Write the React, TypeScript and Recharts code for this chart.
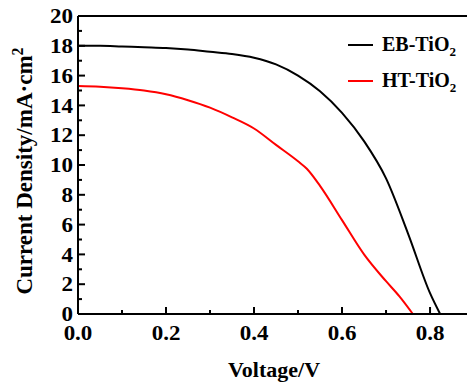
import React from 'react';
import { LineChart, Line, XAxis, YAxis, ReferenceLine, Label } from 'recharts';

const ebVoltage = [0, 0.05, 0.1, 0.15, 0.2, 0.25, 0.3, 0.35, 0.4, 0.45, 0.5, 0.55, 0.6, 0.65, 0.7, 0.75, 0.8, 0.823];
const ebCurrent = [18.0, 18.0, 17.95, 17.9, 17.85, 17.75, 17.6, 17.45, 17.2, 16.75, 16.0, 14.95, 13.5, 11.6, 9.1, 5.4, 1.4, 0];
const htVoltage = [0, 0.05, 0.1, 0.15, 0.2, 0.25, 0.3, 0.35, 0.4, 0.45, 0.5, 0.52, 0.55, 0.6, 0.65, 0.7, 0.73, 0.761];
const htCurrent = [15.3, 15.25, 15.15, 15.0, 14.75, 14.35, 13.85, 13.2, 12.45, 11.35, 10.25, 9.75, 8.6, 6.3, 4.0, 2.2, 1.2, 0];

const xTicks = [0, 0.1, 0.2, 0.3, 0.4, 0.5, 0.6, 0.7, 0.8];
const yTicks = [0, 1, 2, 3, 4, 5, 6, 7, 8, 9, 10, 11, 12, 13, 14, 15, 16, 17, 18, 19, 20];

const seriesNames = ['EB-TiO', 'HT-TiO'];
const seriesColors = ['#000000', '#ff0000'];

const ebData = ebVoltage.map((v, i) => ({ v, j: ebCurrent[i] }));
const htData = htVoltage.map((v, i) => ({ v, j: htCurrent[i] }));

const FONT = '"Liberation Serif", "Times New Roman", serif';
const X_MARGIN = 12;
const Y_MARGIN = 5;
const STRETCH = 1.15;

const XTick = (props: any) => {
  const { x, y, payload } = props;
  const v = payload.value as number;
  const major = Math.round(v * 10) % 2 === 0;
  const axisY = y - X_MARGIN;
  return (
    <g>
      <line x1={x} x2={x} y1={axisY} y2={axisY - (major ? 7 : 4)} stroke="#000" strokeWidth={2} />
      {major && (
        <g transform={`translate(${x} ${y}) scale(${STRETCH} 1)`}>
          <text x={0} y={0} dy="0.71em" textAnchor="middle" fontFamily={FONT} fontWeight="bold" fontSize={20} fill="#000">
            {v.toFixed(1)}
          </text>
        </g>
      )}
    </g>
  );
};

const YTick = (props: any) => {
  const { x, y, payload } = props;
  const v = payload.value as number;
  const major = v % 2 === 0;
  const axisX = x + Y_MARGIN;
  return (
    <g>
      <line x1={axisX} x2={axisX + (major ? 7 : 4)} y1={y} y2={y} stroke="#000" strokeWidth={2} />
      {major && (
        <g transform={`translate(${x} ${y}) scale(${STRETCH} 1)`}>
          <text x={0} y={0} dy="0.355em" textAnchor="end" fontFamily={FONT} fontWeight="bold" fontSize={20} fill="#000">
            {v}
          </text>
        </g>
      )}
    </g>
  );
};

export default function App() {
  return (
    <div style={{ position: 'absolute', left: 0, top: 0, width: 467, height: 385, background: '#fff' }}>
      <LineChart width={467} height={385} margin={{ top: 16, right: 0, left: 0, bottom: 0 }}>
        <XAxis
          type="number"
          dataKey="v"
          domain={[0, 0.884]}
          ticks={xTicks}
          interval={0}
          allowDataOverflow
          height={71}
          tickSize={0}
          tickMargin={X_MARGIN}
          tickLine={false}
          tick={<XTick />}
          axisLine={{ stroke: '#000', strokeWidth: 2 }}
        >
          <Label
            content={() => (
              <text x={274} y={377} textAnchor="middle" fontFamily={FONT} fontWeight="bold" fontSize={22} fill="#000">
                Voltage/V
              </text>
            )}
          />
        </XAxis>
        <YAxis
          type="number"
          domain={[0, 20]}
          ticks={yTicks}
          interval={0}
          width={78}
          tickSize={0}
          tickMargin={Y_MARGIN}
          tickLine={false}
          tick={<YTick />}
          axisLine={{ stroke: '#000', strokeWidth: 2 }}
        >
          <Label
            content={() => (
              <text
                x={32}
                y={171}
                transform="rotate(-90 32 171)"
                textAnchor="middle"
                fontFamily={FONT}
                fontWeight="bold"
                fontSize={23}
                fill="#000"
              >
                Current Density/mA·cm
                <tspan dy={-9} fontSize={16}>2</tspan>
              </text>
            )}
          />
        </YAxis>
        <ReferenceLine y={20} stroke="#000" strokeWidth={2} />
        <Line data={ebData} dataKey="j" type="monotone" stroke={seriesColors[0]} strokeWidth={2} dot={false} isAnimationActive={false} />
        <Line data={htData} dataKey="j" type="monotone" stroke={seriesColors[1]} strokeWidth={2} dot={false} isAnimationActive={false} />
      </LineChart>
      <svg width={140} height={80} style={{ position: 'absolute', left: 340, top: 20 }}>
        {seriesNames.map((name, i) => (
          <g key={name}>
            <line x1={8} x2={33} y1={25 + i * 36} y2={25 + i * 36} stroke={seriesColors[i]} strokeWidth={2} />
            <text x={42} y={31 + i * 36} fontFamily={FONT} fontWeight="bold" fontSize={20} fill="#000">
              {name}
              <tspan dy={5} fontSize={13}>2</tspan>
            </text>
          </g>
        ))}
      </svg>
    </div>
  );
}
